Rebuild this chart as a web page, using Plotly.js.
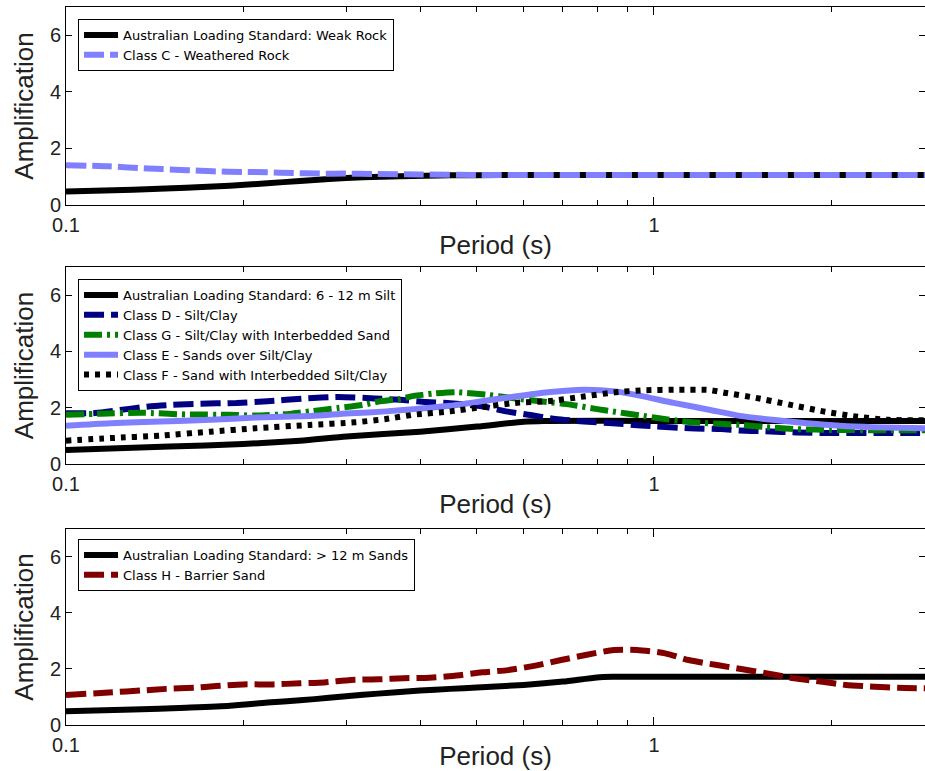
<!DOCTYPE html>
<html>
<head>
<meta charset="utf-8">
<script src="https://cdn.plot.ly/plotly-3.0.1.min.js"></script>
<style>html,body{margin:0;padding:0;background:#fff;overflow:hidden}</style>
</head>
<body>
<div id="chart" style="width:925px;height:771px"></div>
<script>
// ---------- Panel 1: Weak rock ----------
const stdWeakRockX = [0.1, 0.13, 0.16, 0.19, 0.22, 0.25, 0.28, 0.32, 0.37, 0.45, 0.55, 0.6, 1, 2, 2.9];
const stdWeakRockY = [0.48, 0.54, 0.61, 0.68, 0.77, 0.85, 0.92, 0.98, 1.02, 1.05, 1.06, 1.06, 1.06, 1.06, 1.06];
const classCX = [0.1, 0.118, 0.13, 0.146, 0.161, 0.178, 0.2, 0.22, 0.243, 0.27, 0.3, 0.333, 0.4, 0.5, 1, 2, 2.9];
const classCY = [1.41, 1.37, 1.32, 1.27, 1.23, 1.19, 1.17, 1.16, 1.13, 1.11, 1.11, 1.10, 1.08, 1.06, 1.06, 1.06, 1.06];

// ---------- Panel 2: 6 - 12 m silt ----------
const stdSiltX = [0.1, 0.15, 0.2, 0.25, 0.3, 0.4, 0.5, 0.6, 0.65, 1, 2, 2.9];
const stdSiltY = [0.5, 0.62, 0.71, 0.83, 0.98, 1.15, 1.33, 1.5, 1.53, 1.53, 1.53, 1.53];
const classDX = [0.1, 0.112, 0.127, 0.135, 0.145, 0.167, 0.195, 0.22, 0.255, 0.29, 0.335, 0.37, 0.41, 0.45, 0.51, 0.56, 0.62, 0.68, 0.76, 0.85, 0.95, 1.15, 1.3, 1.4, 1.55, 1.75, 2.0, 2.5, 2.9];
const classDY = [1.80, 1.81, 1.95, 2.02, 2.08, 2.14, 2.17, 2.23, 2.33, 2.38, 2.33, 2.28, 2.2, 2.16, 2.05, 1.87, 1.73, 1.6, 1.51, 1.45, 1.37, 1.27, 1.24, 1.19, 1.16, 1.12, 1.10, 1.10, 1.10];
const classGX = [0.1, 0.115, 0.135, 0.16, 0.19, 0.21, 0.24, 0.26, 0.29, 0.32, 0.34, 0.37, 0.39, 0.42, 0.46, 0.52, 0.57, 0.64, 0.72, 0.8, 0.85, 0.95, 1.0, 1.15, 1.4, 1.55, 1.75, 2.0, 2.5, 2.9];
const classGY = [1.75, 1.79, 1.82, 1.76, 1.75, 1.72, 1.78, 1.87, 1.99, 2.10, 2.22, 2.31, 2.42, 2.5, 2.55, 2.46, 2.35, 2.23, 2.11, 1.95, 1.87, 1.72, 1.65, 1.49, 1.39, 1.31, 1.24, 1.21, 1.2, 1.2];
const classEX = [0.1, 0.119, 0.145, 0.176, 0.21, 0.26, 0.305, 0.35, 0.39, 0.45, 0.51, 0.58, 0.66, 0.76, 0.86, 0.95, 1.08, 1.24, 1.4, 1.59, 1.82, 2.07, 2.35, 2.9];
const classEY = [1.36, 1.45, 1.51, 1.57, 1.65, 1.71, 1.80, 1.87, 1.95, 2.07, 2.23, 2.40, 2.55, 2.64, 2.58, 2.42, 2.17, 1.93, 1.71, 1.57, 1.45, 1.36, 1.31, 1.27];
const classFX = [0.1, 0.119, 0.145, 0.176, 0.21, 0.26, 0.31, 0.35, 0.39, 0.45, 0.51, 0.58, 0.66, 0.76, 0.86, 0.96, 1.1, 1.24, 1.33, 1.49, 1.7, 1.94, 2.2, 2.5, 2.9];
const classFY = [0.83, 0.92, 1.01, 1.15, 1.27, 1.39, 1.48, 1.60, 1.75, 1.87, 2.02, 2.17, 2.23, 2.40, 2.55, 2.62, 2.64, 2.63, 2.52, 2.35, 2.11, 1.87, 1.69, 1.57, 1.55];

// ---------- Panel 3: > 12 m sands ----------
const stdSandX = [0.1, 0.13, 0.16, 0.19, 0.22, 0.25, 0.28, 0.32, 0.36, 0.4, 0.45, 0.5, 0.6, 0.7, 0.8, 0.85, 1, 2, 2.9];
const stdSandY = [0.49, 0.55, 0.62, 0.69, 0.8, 0.88, 0.97, 1.08, 1.16, 1.23, 1.29, 1.34, 1.43, 1.55, 1.70, 1.72, 1.72, 1.72, 1.72];
const classHX = [0.1, 0.12, 0.134, 0.148, 0.165, 0.18, 0.2, 0.225, 0.25, 0.275, 0.305, 0.34, 0.375, 0.415, 0.455, 0.51, 0.565, 0.625, 0.695, 0.765, 0.855, 0.935, 1.045, 1.145, 1.28, 1.415, 1.55, 1.73, 1.92, 2.12, 2.37, 2.6, 2.9];
const classHY = [1.07, 1.17, 1.23, 1.29, 1.33, 1.39, 1.45, 1.45, 1.49, 1.52, 1.61, 1.63, 1.67, 1.69, 1.75, 1.88, 1.96, 2.11, 2.32, 2.50, 2.68, 2.68, 2.56, 2.32, 2.14, 1.99, 1.85, 1.67, 1.55, 1.43, 1.37, 1.33, 1.31];

// ---------- Labels ----------
const legendNames1 = ['Australian Loading Standard: Weak Rock', 'Class C - Weathered Rock'];
const legendNames2 = ['Australian Loading Standard: 6 - 12 m Silt', 'Class D - Silt/Clay', 'Class G - Silt/Clay with Interbedded Sand', 'Class E - Sands over Silt/Clay', 'Class F - Sand with Interbedded Silt/Clay'];
const legendNames3 = ['Australian Loading Standard: > 12 m Sands', 'Class H - Barrier Sand'];
const xTickVals = [0.1, 1];
const xTickText = ['0.1', '1'];
const xMinorVals = [0.2, 0.3, 0.4, 0.5, 0.6, 0.7, 0.8, 0.9, 2];
const yTickVals = [0, 2, 4, 6];
const xTitle = 'Period (s)';
const yTitle = 'Amplification';

function tr(x, y, name, color, width, dash, ax, lg) {
  return {x: x, y: y, name: name, type: 'scatter', mode: 'lines',
    line: {color: color, width: width, dash: dash, shape: 'spline', smoothing: 0.6},
    xaxis: 'x' + ax, yaxis: 'y' + ax, legend: lg, hoverinfo: 'skip'};
}

const data = [
  tr(stdWeakRockX, stdWeakRockY, legendNames1[0], '#000000', 6, 'solid', '', 'legend'),
  tr(classCX, classCY, legendNames1[1], '#8080ff', 6, '20px,6px', '', 'legend'),
  tr(stdSiltX, stdSiltY, legendNames2[0], '#000000', 6, 'solid', '2', 'legend2'),
  tr(classDX, classDY, legendNames2[1], '#000080', 6, '20px,7px', '2', 'legend2'),
  tr(classGX, classGY, legendNames2[2], '#008000', 6, '18px,5px,3px,5px', '2', 'legend2'),
  tr(classEX, classEY, legendNames2[3], '#8080ff', 6, 'solid', '2', 'legend2'),
  tr(classFX, classFY, legendNames2[4], '#000000', 6, '5px,6px', '2', 'legend2'),
  tr(stdSandX, stdSandY, legendNames3[0], '#000000', 6, 'solid', '3', 'legend3'),
  tr(classHX, classHY, legendNames3[1], '#800000', 6, '20px,7px', '3', 'legend3')
];

const font = 'Liberation Sans, Arial, sans-serif';
function xa(anchor) {
  return {type: 'log', range: [-1, 0.4609], domain: [0, 1], anchor: anchor,
    tickmode: 'array', tickvals: xTickVals, ticktext: xTickText,
    ticks: 'inside', ticklen: 8, tickwidth: 1, tickcolor: '#000', ticklabelstandoff: 2,
    minor: {tickmode: 'array', tickvals: xMinorVals, ticks: 'inside', ticklen: 5, tickwidth: 1, tickcolor: '#000', showgrid: false},
    showline: true, linecolor: '#000', linewidth: 1, mirror: 'allticks',
    showgrid: false, zeroline: false, automargin: false,
    tickfont: {family: font, size: 20, color: '#222'},
    title: {text: xTitle, standoff: 0, font: {family: font, size: 26, color: '#222'}}};
}
function ya(dom, anchor) {
  return {range: [0, 7], domain: dom, anchor: anchor,
    tickmode: 'array', tickvals: yTickVals,
    ticks: 'inside', ticklen: 6, tickwidth: 1, tickcolor: '#000',
    showline: true, linecolor: '#000', linewidth: 1, mirror: 'allticks',
    showgrid: false, zeroline: false, automargin: false,
    tickfont: {family: font, size: 20, color: '#222'},
    title: {text: yTitle, standoff: 8, font: {family: font, size: 26, color: '#222'}}};
}
function lg(y) {
  return {x: 0.014, y: y, xanchor: 'left', yanchor: 'top', bgcolor: '#fff',
    bordercolor: '#000', borderwidth: 1, traceorder: 'normal', itemwidth: 34,
    font: {family: 'DejaVu Sans, sans-serif', size: 13, color: '#000'}};
}

const layout = {
  width: 925, height: 771,
  margin: {l: 66, r: 0, t: 7, b: 46},
  paper_bgcolor: '#fff', plot_bgcolor: '#fff',
  showlegend: true,
  xaxis: xa('y'), xaxis2: xa('y2'), xaxis3: xa('y3'),
  yaxis: ya([0.7242, 1], 'x'), yaxis2: ya([0.3635, 0.6379], 'x2'), yaxis3: ya([0, 0.273], 'x3'),
  legend: lg(0.9833), legend2: lg(0.6212), legend3: lg(0.2591)
};

Plotly.newPlot('chart', data, layout, {displayModeBar: false, staticPlot: true});
</script>
</body>
</html>
